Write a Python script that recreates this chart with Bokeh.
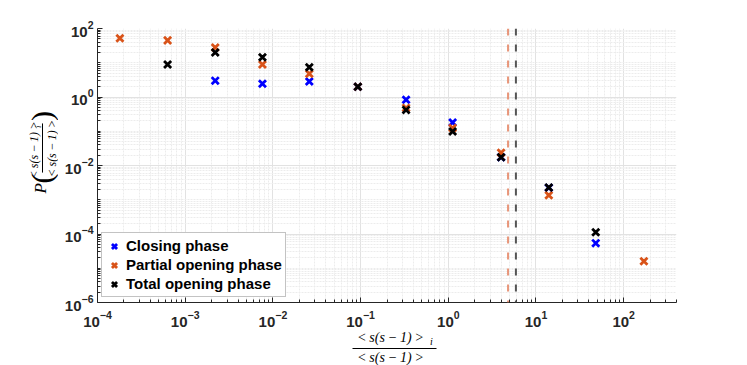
import math
from bokeh.plotting import figure
from bokeh.layouts import row, column
from bokeh.models import (ColumnDataSource, Span, FixedTicker, Legend, LegendItem, Range1d)
from bokeh.core.properties import value
from bokeh.embed import file_html
from bokeh.resources import INLINE

# ---- data ----
closing_x = [2.2e-3, 7.6e-3, 0.026, 0.093, 0.33, 1.12, 4.0, 14.0, 48.0]
closing_y = [3.0, 2.45, 2.85, 2.0, 0.83, 0.18, 0.0175, 0.00225, 5.4e-5]

partial_x = [1.8e-4, 6.3e-4, 2.2e-3, 7.6e-3, 0.026, 0.093, 0.33, 1.12, 4.0, 14.0, 170.0]
partial_y = [52.0, 45.0, 28.0, 8.9, 4.75, 2.0, 0.48, 0.125, 0.0235, 0.00135, 1.6e-5]

total_x = [6.3e-4, 2.2e-3, 7.6e-3, 0.026, 0.093, 0.33, 1.12, 4.0, 14.0, 48.0]
total_y = [8.9, 20.0, 14.5, 7.4, 2.0, 0.42, 0.098, 0.0175, 0.00228, 1.13e-4]

threshold_partial = 4.8
threshold_total = 5.9

series_names = ["Closing phase", "Partial opening phase", "Total opening phase"]
series_colors = ["#0000FF", "#D95319", "#000000"]

x_major = [1e-4, 1e-3, 1e-2, 1e-1, 1e0, 1e1, 1e2]
y_major = [1e-6, 1e-4, 1e-2, 1e0, 1e2]

# ---- main figure ----
LEFT_W = 58
MAIN_H = 329
p = figure(width=747 - LEFT_W, height=MAIN_H, x_axis_type="log", y_axis_type="log",
           x_range=(1e-4, 400), y_range=(1e-6, 1e2),
           output_backend="svg", toolbar_location=None,
           min_border_left=97 - LEFT_W, min_border_right=747 - LEFT_W - (97 - LEFT_W) - 579,
           min_border_top=28, min_border_bottom=MAIN_H - 28 - 274)
p.outline_line_color = None

x_minor = [m * 10.0 ** k for k in range(-4, 3) for m in range(2, 10)]
y_minor = [m * 10.0 ** k for k in range(-6, 2) for m in range(1, 10)
           if not (m == 1 and k % 2 == 0)]
p.xaxis.ticker = FixedTicker(ticks=x_major, minor_ticks=x_minor)
p.yaxis.ticker = FixedTicker(ticks=y_major, minor_ticks=y_minor)

for ax in (p.xaxis, p.yaxis):
    ax.axis_line_color = "#262626"
    ax.major_tick_line_color = "#262626"
    ax.minor_tick_line_color = "#262626"
    ax.major_tick_in = 5
    ax.major_tick_out = 0
    ax.minor_tick_in = 3
    ax.minor_tick_out = 0
    ax.major_label_text_font = "Liberation Sans"
    ax.major_label_text_font_style = "bold"
    ax.major_label_text_font_size = "15px"
    ax.major_label_text_color = "#262626"
p.xaxis.major_label_standoff = 8
p.yaxis.major_label_standoff = 4

for g in (p.xgrid, p.ygrid):
    g.grid_line_color = "#e2e2e2"
    g.minor_grid_line_color = "#ececec"
    g.minor_grid_line_dash = "2 1"

# threshold lines
p.add_layout(Span(location=threshold_partial, dimension="height",
                  line_color="#E8967A", line_width=2, line_dash="7 9"))
p.add_layout(Span(location=threshold_total, dimension="height",
                  line_color="#555555", line_width=2, line_dash="7 9"))

renderers = []
for xs, ys, c in zip([closing_x, partial_x, total_x], [closing_y, partial_y, total_y], series_colors):
    src = ColumnDataSource(dict(x=xs, y=ys))
    r = p.scatter("x", "y", source=src, marker="x", size=10, line_color=c, line_width=2.8)
    renderers.append(r)

legend = Legend(items=[LegendItem(label=n, renderers=[r]) for n, r in zip(series_names, renderers)],
                location=(4, 5))
legend.label_text_font = "Liberation Sans"
legend.label_text_font_style = "bold"
legend.label_text_font_size = "15px"
legend.label_text_color = "#000000"
legend.glyph_width = 18
legend.glyph_height = 18
legend.label_height = 19
legend.label_standoff = 3
legend.spacing = 0
legend.padding = 3
legend.margin = 0
legend.border_line_color = "#888888"
legend.border_line_width = 1
legend.background_fill_alpha = 1.0
p.add_layout(legend, "center")

# ---- axis-label panels (fractions drawn as real text) ----
serif = value("Liberation Serif")
frac_text = "<\u2009s(s\u2009\u2212\u20091)\u2009>"


def blank_fig(w, h):
    f = figure(width=w, height=h, x_range=Range1d(0, w), y_range=Range1d(h, 0),
               output_backend="svg", toolbar_location=None,
               min_border_left=0, min_border_right=0, min_border_top=0, min_border_bottom=0)
    f.axis.visible = False
    f.xgrid.visible = False
    f.ygrid.visible = False
    f.outline_line_color = None
    return f


# y label panel (left), coordinates = page pixels
yl = blank_fig(LEFT_W, MAIN_H)
ang = math.pi / 2
yl.text(x=[40], y=[192], text=["P"], angle=ang, text_font=serif, text_font_style="italic",
        text_font_size=value("17px"), text_align="center", text_baseline="middle", text_color="black")
yl.text(x=[41], y=[180], text=["("], angle=ang, text_font=serif,
        text_font_size=value("30px"), text_align="center", text_baseline="middle", text_color="black")
yl.text(x=[33], y=[146], text=[frac_text], angle=ang, text_font=serif, text_font_style="italic",
        text_font_size=value("12px"), text_align="center", text_baseline="middle", text_color="black")
yl.text(x=[37], y=[118], text=["i"], angle=ang, text_font=serif, text_font_style="italic",
        text_font_size=value("9px"), text_align="center", text_baseline="middle", text_color="black")
yl.segment(x0=[42], y0=[114], x1=[42], y1=[173], line_color="black", line_width=1)
yl.text(x=[51], y=[144], text=[frac_text], angle=ang, text_font=serif, text_font_style="italic",
        text_font_size=value("12px"), text_align="center", text_baseline="middle", text_color="black")
yl.text(x=[41], y=[105], text=[")"], angle=ang, text_font=serif,
        text_font_size=value("30px"), text_align="center", text_baseline="middle", text_color="black")

# x label panel (bottom), coordinates relative to panel top
XL_H = 365 - MAIN_H
xl = blank_fig(747, XL_H)
xl.text(x=[390], y=[8], text=[frac_text], text_font=serif, text_font_style="italic",
        text_font_size=value("14px"), text_align="center", text_baseline="middle", text_color="black")
xl.text(x=[431], y=[12], text=["i"], text_font=serif, text_font_style="italic",
        text_font_size=value("10px"), text_align="center", text_baseline="middle", text_color="black")
xl.segment(x0=[352], y0=[19], x1=[436], y1=[19], line_color="black", line_width=1)
xl.text(x=[390], y=[28], text=[frac_text], text_font=serif, text_font_style="italic",
        text_font_size=value("14px"), text_align="center", text_baseline="middle", text_color="black")

layout = column(row(yl, p, spacing=0), xl, spacing=0)

open("out.html", "w").write(file_html(layout, INLINE))
